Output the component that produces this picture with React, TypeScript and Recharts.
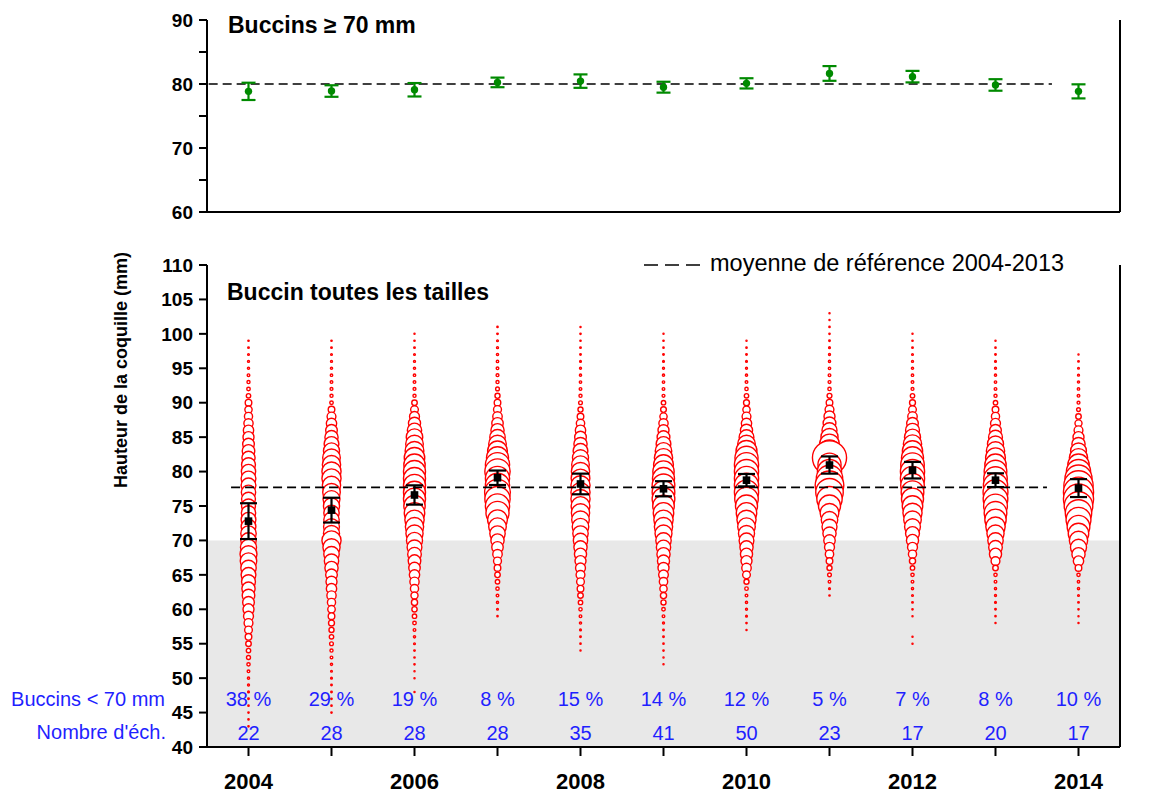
import React from "react"
import {
  ScatterChart,
  Scatter,
  XAxis,
  YAxis,
  ReferenceLine,
  ReferenceArea,
  ErrorBar,
} from "recharts"

const FONT = "'Liberation Sans', Arial, Helvetica, sans-serif"
const BLUE = "#1f1fff"
const RED = "#ff0000"
const GREEN = "#008a00"
const W = 1175
const PX_PER_PCT = 2.2

// années échantillonnées
const years = [2004, 2005, 2006, 2007, 2008, 2009, 2010, 2011, 2012, 2013, 2014]

// buccins >= 70 mm : moyenne et intervalle
const meanLarge = [78.85, 78.9, 79.1, 80.25, 80.45, 79.5, 80.1, 81.65, 81.15, 79.85, 78.85]
const errLarge = [1.35, 0.9, 1.05, 0.75, 1.05, 0.85, 0.8, 1.15, 0.9, 0.9, 1.1]
const refLarge = 80

// toutes tailles : moyenne et intervalle
const meanAll = [72.8, 74.4, 76.6, 79.1, 78.2, 77.5, 78.75, 80.95, 80.2, 78.75, 77.6]
const errAll = [2.6, 1.8, 1.4, 1.05, 1.5, 1.1, 0.9, 1.25, 1.2, 1.0, 1.3]
const refAll = 77.7

const pctUnder70 = [38, 29, 19, 8, 15, 14, 12, 5, 7, 8, 10]
const nSamples = [22, 28, 28, 28, 35, 41, 50, 23, 17, 20, 17]

// distribution des tailles (% par classe de 1 mm), à partir de la taille minimale
const minSize = [43, 45, 48, 59, 54, 52, 57, 62, 55, 58, 58]
const freq2004 = [0.3, 0.3, 0.3, 0.3, 0.35, 0.4, 0.45, 0.5, 0.6, 0.75, 0.9, 1.0, 1.25, 1.5, 1.75, 2.0, 2.25, 2.5, 2.65, 2.85, 3.0, 3.15, 3.35, 3.5, 3.75, 3.85, 3.65, 3.5, 3.5, 3.35, 3.35, 3.25, 3.15, 3.15, 3.25, 3.35, 3.35, 3.25, 3.15, 3.0, 2.85, 2.65, 2.5, 2.35, 2.1, 1.85, 1.65, 1.5, 1.0, 0.8, 0.7, 0.6, 0.5, 0.45, 0.4, 0.35, 0.3]
const freq2005 = [0.3, 0.3, 0.3, 0.35, 0.35, 0.4, 0.4, 0.5, 0.6, 0.7, 0.85, 1.0, 1.15, 1.35, 1.5, 1.7, 1.85, 2.1, 2.35, 2.5, 2.65, 3.0, 3.25, 3.5, 3.9, 4.35, 3.65, 3.6, 3.5, 3.5, 3.65, 3.85, 4.0, 4.15, 4.35, 4.35, 4.15, 4.0, 3.65, 3.35, 3.0, 2.65, 2.35, 2.0, 1.5, 0.8, 0.7, 0.65, 0.6, 0.55, 0.5, 0.45, 0.4, 0.35, 0.3]
const freq2006 = [0.25, 0, 0.25, 0.25, 0.3, 0.3, 0.35, 0.4, 0.5, 0.6, 0.8, 1.0, 1.2, 1.4, 1.6, 1.85, 2.1, 2.35, 2.6, 2.85, 3.1, 3.35, 3.65, 3.9, 4.15, 4.4, 4.65, 4.85, 5.0, 5.0, 5.0, 5.0, 5.0, 4.85, 4.65, 4.25, 4.0, 3.75, 3.25, 2.75, 2.25, 1.75, 1.25, 0.7, 0.65, 0.6, 0.55, 0.5, 0.45, 0.4, 0.35, 0.3, 0.25]
const freq2007 = [0.3, 0.4, 0.5, 0.6, 0.75, 1.0, 1.25, 1.5, 1.8, 2.15, 2.6, 3.0, 3.5, 4.0, 4.5, 5.25, 5.5, 5.75, 5.85, 5.5, 5.5, 5.75, 5.5, 5.0, 4.5, 4.0, 3.5, 3.0, 2.6, 2.15, 1.8, 1.5, 1.15, 0.85, 0.7, 0.65, 0.6, 0.55, 0.5, 0.45, 0.4, 0.35, 0.3]
const freq2008 = [0.25, 0.3, 0.35, 0.4, 0.5, 0.6, 0.75, 1.0, 1.25, 1.5, 1.75, 2.0, 2.25, 2.5, 2.75, 3.0, 3.25, 3.5, 3.75, 4.0, 4.15, 4.25, 4.35, 4.35, 4.35, 4.25, 4.15, 4.0, 3.65, 3.35, 3.0, 2.65, 2.35, 1.9, 1.5, 1.15, 0.85, 0.7, 0.6, 0.55, 0.5, 0.45, 0.4, 0.35, 0.35, 0.3, 0.3, 0.25]
const freq2009 = [0.25, 0.25, 0.3, 0.3, 0.35, 0.35, 0.45, 0.6, 0.8, 1.15, 1.4, 1.65, 1.9, 2.2, 2.5, 2.75, 3.0, 3.25, 3.5, 3.85, 4.15, 4.4, 4.65, 4.9, 5.15, 5.15, 5.15, 5.0, 4.85, 4.5, 4.15, 3.75, 3.35, 2.9, 2.5, 2.1, 1.65, 1.3, 1.0, 0.65, 0.6, 0.55, 0.5, 0.45, 0.4, 0.35, 0.3, 0.3, 0.25]
const freq2010 = [0.25, 0.3, 0.4, 0.45, 0.5, 0.6, 0.8, 1.15, 1.75, 2.15, 2.5, 2.75, 3.0, 3.35, 3.65, 4.0, 4.35, 4.65, 5.0, 5.35, 5.5, 5.5, 5.5, 5.5, 5.5, 5.25, 4.75, 4.0, 3.35, 2.75, 2.35, 2.0, 1.65, 1.35, 1.0, 0.75, 0.6, 0.5, 0.45, 0.4, 0.35, 0.3, 0.25]
const freq2011 = [0.3, 0.4, 0.6, 0.85, 1.15, 1.5, 1.9, 2.25, 2.6, 3.0, 3.4, 3.75, 4.25, 5.0, 5.75, 6.25, 6.5, 6.0, 5.5, 5.25, 7.75, 5.0, 4.5, 3.9, 3.4, 2.9, 2.5, 2.0, 1.5, 1.1, 0.75, 0.65, 0.6, 0.55, 0.5, 0.45, 0.4, 0.35, 0.3, 0.3, 0.25, 0.25]
const freq2012 = [0.25, 0.25, 0, 0, 0.25, 0.3, 0.35, 0.4, 0.5, 0.6, 0.75, 1.0, 1.4, 1.85, 2.25, 2.75, 3.15, 3.6, 4.0, 4.35, 4.65, 5.0, 5.15, 5.35, 5.5, 5.5, 5.35, 5.0, 4.6, 4.15, 3.65, 3.15, 2.65, 2.15, 1.75, 1.35, 1.0, 0.65, 0.6, 0.55, 0.5, 0.45, 0.4, 0.35, 0.3, 0.25]
const freq2013 = [0.25, 0.3, 0.35, 0.4, 0.45, 0.5, 0.6, 0.75, 1.25, 2.0, 2.75, 3.1, 3.5, 3.9, 4.4, 4.85, 5.15, 5.4, 5.6, 5.65, 5.5, 5.35, 5.15, 4.85, 4.5, 4.15, 3.65, 3.15, 2.65, 2.25, 1.85, 1.5, 1.0, 0.7, 0.6, 0.55, 0.5, 0.45, 0.4, 0.35, 0.3, 0.25]
const freq2014 = [0.25, 0.25, 0.3, 0.35, 0.4, 0.5, 0.55, 0.75, 1.5, 2.35, 3.0, 3.65, 4.15, 4.65, 5.15, 5.65, 6.0, 6.5, 6.85, 6.85, 6.65, 6.15, 5.5, 4.85, 4.15, 3.6, 3.0, 2.5, 2.0, 1.6, 1.25, 0.85, 0.65, 0.6, 0.55, 0.5, 0.45, 0.4, 0.35, 0.25]

const freqByYear = [freq2004, freq2005, freq2006, freq2007, freq2008, freq2009, freq2010, freq2011, freq2012, freq2013, freq2014]

const topTicks = [60, 65, 70, 75, 80, 85, 90]
const bottomTicks = [40, 45, 50, 55, 60, 65, 70, 75, 80, 85, 90, 95, 100, 105, 110]

const PCT_ROW = 46.9
const N_ROW = 42.1

// tracé du haut vers le bas pour chaque année
const bubbleData = years.flatMap((year, i) =>
  freqByYear[i]
    .map((f, k) => ({ year, y: minSize[i] + k, f }))
    .filter((d) => d.f > 0)
    .reverse()
)
const largeData = years.map((year, i) => ({ year, y: meanLarge[i], err: errLarge[i] }))
const allData = years.map((year, i) => ({ year, y: meanAll[i], err: errAll[i] }))
const pctData = years.map((year, i) => ({ year, y: PCT_ROW, text: `${pctUnder70[i]} %` }))
const nData = years.map((year, i) => ({ year, y: N_ROW, text: `${nSamples[i]}` }))

const Bubble = (p: any) => (
  <circle cx={p.cx} cy={p.cy} r={p.payload.f * PX_PER_PCT} fill="#fff" stroke={RED} strokeWidth={1.4} />
)
const MeanSquare = (p: any) => <rect x={p.cx - 3.8} y={p.cy - 3.8} width={7.6} height={7.6} fill="#000" />
const MeanDot = (p: any) => <circle cx={p.cx} cy={p.cy} r={3.7} fill={GREEN} />
const RowLabel = (p: any) => (
  <text x={p.cx} y={p.cy} textAnchor="middle" dominantBaseline="central" fill={BLUE} fontSize={20} fontFamily={FONT}>
    {p.payload.text}
  </text>
)

const line = { stroke: "#000", strokeWidth: 2 }
const tickFont = { fill: "#000", fontSize: 19, fontWeight: "bold", fontFamily: FONT }
const XDOMAIN = [2003.5, 2014.5]

export default function App() {
  return (
    <div style={{ position: "absolute", left: 0, top: 0, width: W, height: 795, background: "#fff" }}>
      <div style={{ position: "absolute", left: 0, top: 0 }}>
        <ScatterChart width={W} height={230} margin={{ top: 20, right: 0, bottom: 0, left: 0 }}>
          <XAxis
            type="number"
            dataKey="year"
            domain={XDOMAIN}
            ticks={years}
            tick={false}
            height={18}
            tickSize={9}
            axisLine={line}
            tickLine={line}
          />
          <YAxis
            yAxisId="left"
            type="number"
            dataKey="y"
            domain={[60, 90]}
            ticks={topTicks}
            width={207}
            tickSize={8}
            tickMargin={6}
            tick={tickFont}
            tickFormatter={(v: number) => (v % 10 === 0 ? String(v) : "")}
            axisLine={line}
            tickLine={line}
          />
          <YAxis
            yAxisId="right"
            orientation="right"
            type="number"
            dataKey="y"
            domain={[60, 90]}
            ticks={topTicks}
            width={55}
            tickSize={8}
            tickMargin={8}
            tick={tickFont}
            tickFormatter={(v: number) => (v % 10 === 0 ? String(v) : "")}
            axisLine={line}
            tickLine={line}
          />
          <ReferenceLine
            yAxisId="left"
            segment={[{ x: 2003.52, y: refLarge }, { x: 2013.68, y: refLarge }]}
            stroke="#000"
            strokeWidth={1.6}
            strokeDasharray="9 5"
            zIndex={700}
          />
          <Scatter yAxisId="left" data={largeData} shape={MeanDot} isAnimationActive={false} zIndex={800}>
            <ErrorBar dataKey="err" direction="y" width={7} stroke={GREEN} strokeWidth={2.2} zIndex={900} />
          </Scatter>
        </ScatterChart>
      </div>

      <div style={{ position: "absolute", left: 0, top: 240 }}>
        <ScatterChart width={W} height={555} margin={{ top: 25, right: 0, bottom: 0, left: 0 }}>
          <ReferenceArea yAxisId="left" y1={40} y2={70} fill="#e8e8e8" fillOpacity={1} stroke="none" />
          <XAxis
            type="number"
            dataKey="year"
            domain={XDOMAIN}
            ticks={years}
            height={48}
            tickSize={9}
            tickMargin={17}
            tick={{ ...tickFont, fontSize: 22 }}
            tickFormatter={(v: number) => (v % 2 === 0 ? String(v) : "")}
            axisLine={line}
            tickLine={line}
          />
          <YAxis
            yAxisId="left"
            type="number"
            dataKey="y"
            domain={[40, 110]}
            ticks={bottomTicks}
            width={207}
            tickSize={8}
            tickMargin={6}
            tick={tickFont}
            axisLine={line}
            tickLine={line}
          />
          <YAxis
            yAxisId="right"
            orientation="right"
            type="number"
            dataKey="y"
            domain={[40, 110]}
            ticks={bottomTicks}
            width={55}
            tickSize={8}
            tickMargin={8}
            tick={tickFont}
            axisLine={line}
            tickLine={line}
          />
          <Scatter yAxisId="left" data={bubbleData} shape={Bubble} isAnimationActive={false} />
          <ReferenceLine
            yAxisId="left"
            segment={[{ x: 2003.79, y: refAll }, { x: 2013.62, y: refAll }]}
            stroke="#000"
            strokeWidth={1.6}
            strokeDasharray="9 5"
            zIndex={700}
          />
          <Scatter yAxisId="left" data={allData} shape={MeanSquare} isAnimationActive={false} zIndex={800}>
            <ErrorBar dataKey="err" direction="y" width={8.5} stroke="#000" strokeWidth={2.2} zIndex={900} />
          </Scatter>
          <Scatter yAxisId="left" data={pctData} shape={RowLabel} isAnimationActive={false} zIndex={800} />
          <Scatter yAxisId="left" data={nData} shape={RowLabel} isAnimationActive={false} zIndex={800} />
        </ScatterChart>
      </div>

      <svg width={W} height={795} style={{ position: "absolute", left: 0, top: 0, pointerEvents: "none" }}>
        <text x={228} y={33} fontFamily={FONT} fontWeight="bold" fontSize={23} fill="#000">
          Buccins ≥ 70 mm
        </text>
        <text x={227} y={300} fontFamily={FONT} fontWeight="bold" fontSize={23} fill="#000">
          Buccin toutes les tailles
        </text>
        <line x1={644} x2={700} y1={265} y2={265} stroke="#000" strokeWidth={1.6} strokeDasharray="14 7" />
        <text x={710} y={271} fontFamily={FONT} fontSize={23.5} fill="#000">
          moyenne de référence 2004-2013
        </text>
        <text
          transform="translate(127,370) rotate(-90)"
          textAnchor="middle"
          fontFamily={FONT}
          fontWeight="bold"
          fontSize={18}
          fill="#000"
        >
          Hauteur de la coquille (mm)
        </text>
        <text x={165} y={706} textAnchor="end" fontFamily={FONT} fontSize={20} fill={BLUE}>
          Buccins &lt; 70 mm
        </text>
        <text x={166} y={739} textAnchor="end" fontFamily={FONT} fontSize={20} fill={BLUE}>
          Nombre d'éch.
        </text>
      </svg>
    </div>
  )
}
